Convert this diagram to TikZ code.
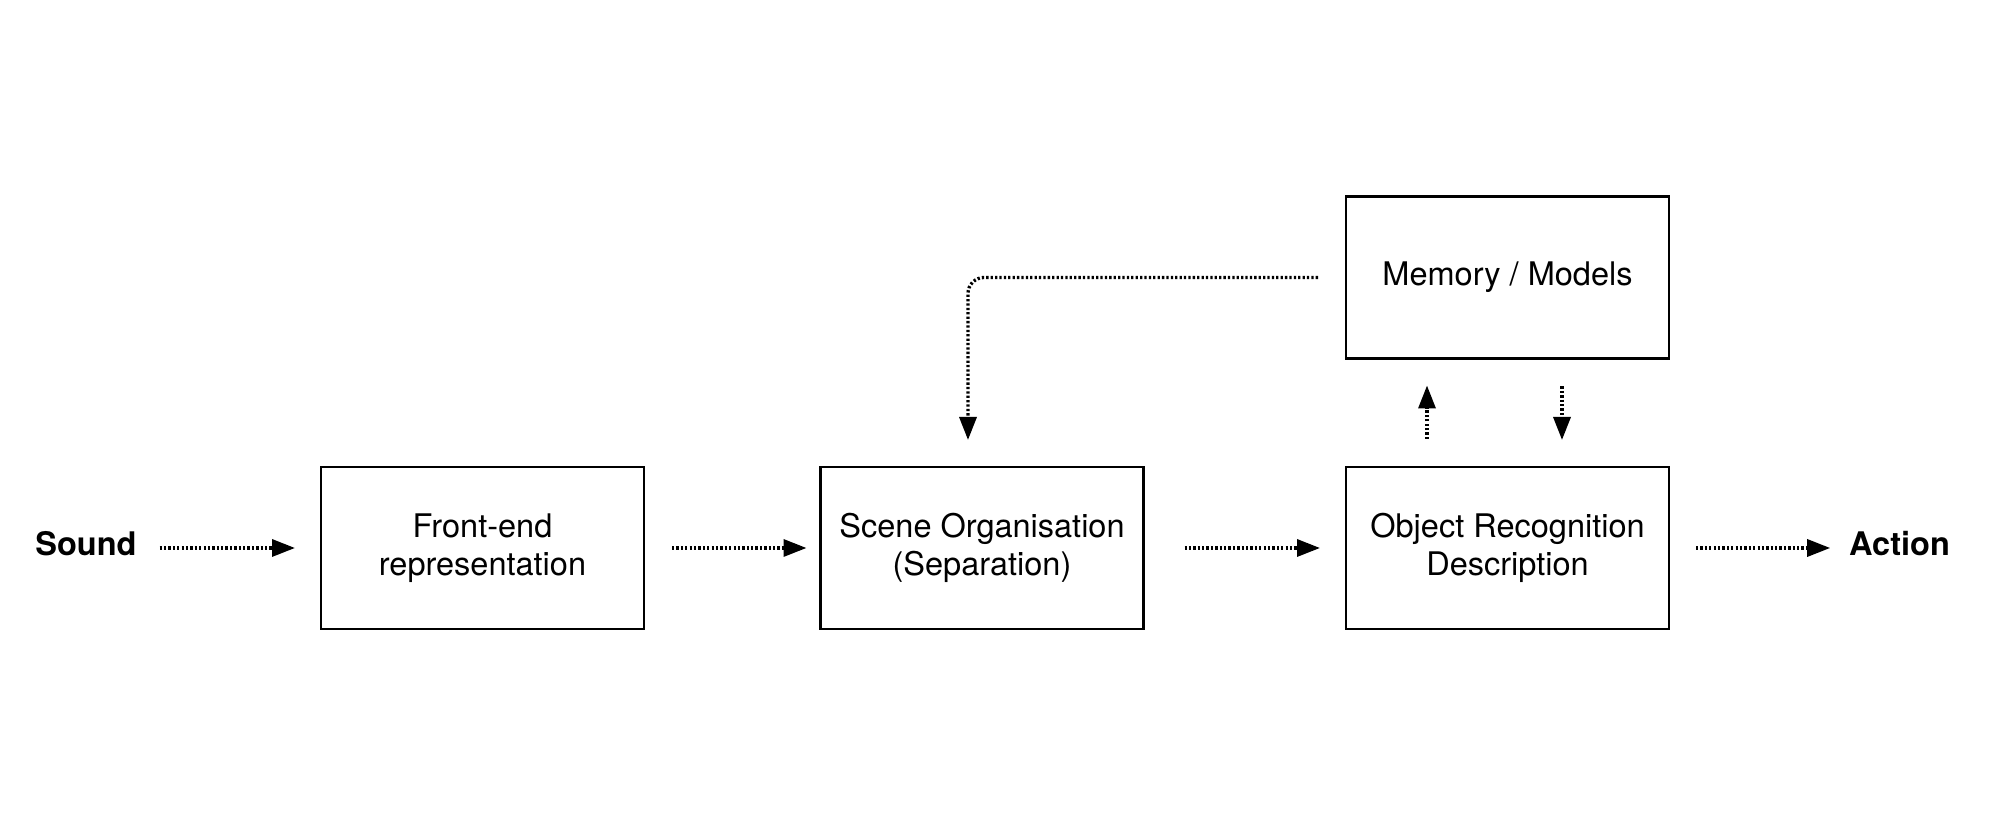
\documentclass[tikz,border=0pt]{standalone}
\usepackage{fontspec}
\setmainfont{TeX Gyre Heros}
\usetikzlibrary{arrows.meta}
\begin{document}
\begin{tikzpicture}[
  box/.style={draw, line width=0.65pt, minimum width=3.23cm, minimum height=1.62cm,
    inner sep=0pt, outer sep=0pt, align=center, font=\fontsize{9.25}{10.8}\selectfont},
  term/.style={inner sep=0pt, outer sep=0pt, font=\fontsize{9.25}{10.8}\selectfont\bfseries},
  flow/.style={line width=0.95pt, dash pattern=on 0.65pt off 0.6pt,
    -{Triangle[length=0.23cm,width=0.17cm]}}
]
\useasboundingbox (0,0) rectangle (20,8.29);
\node[term] (sound) at (0.86,2.85) {Sound};
\node[box] (front) at (4.825,2.81) {Front-end\\representation};
\node[box] (scene) at (9.82,2.81) {Scene Organisation\\(Separation)};
\node[box] (object) at (15.075,2.81) {Object Recognition\\Description};
\node[box] (memory) at (15.075,5.515) {Memory / Models};
\node[term] (action) at (18.995,2.85) {Action};

\draw[flow, shorten <=0.23cm, shorten >=0.26cm] (sound.east |- front.west) -- (front.west);
\draw[flow, shorten <=0.28cm, shorten >=0.14cm] (front.east) -- (scene.west);
\draw[flow, shorten <=0.41cm, shorten >=0.26cm] (scene.east) -- (object.west);
\draw[flow, shorten <=0.27cm, shorten >=0.19cm] (object.east) -- (object.east -| action.west);
\draw[flow, rounded corners=0.16cm, shorten <=0.28cm, shorten >=0.27cm]
  (memory.west) -| ([xshift=-0.14cm]scene.north);
\draw[flow, shorten <=0.28cm, shorten >=0.27cm]
  ([xshift=-0.805cm]object.north) -- ([xshift=-0.805cm]memory.south);
\draw[flow, shorten <=0.28cm, shorten >=0.27cm]
  ([xshift=0.545cm]memory.south) -- ([xshift=0.545cm]object.north);
\end{tikzpicture}
\end{document}
